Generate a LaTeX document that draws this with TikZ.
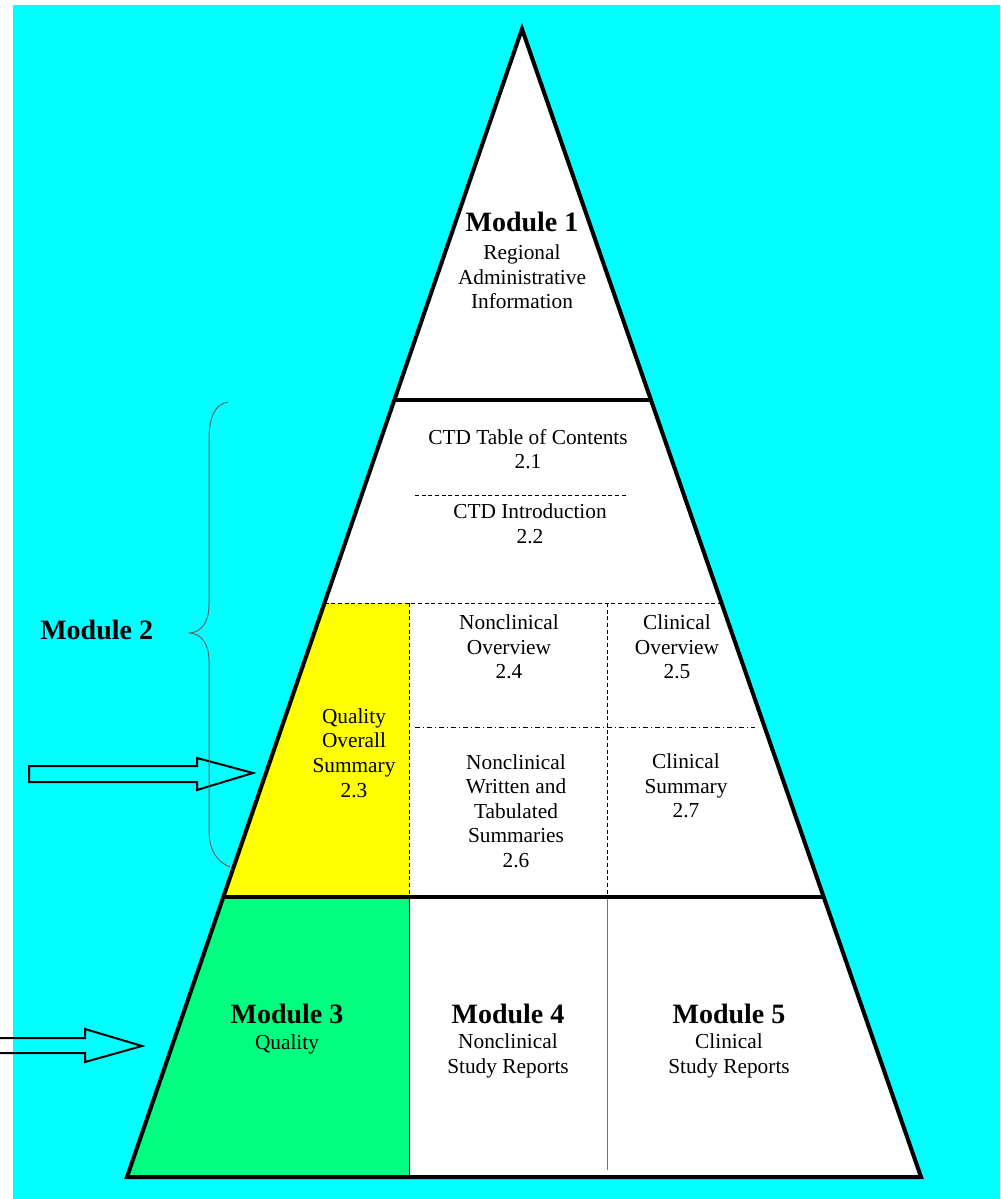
\documentclass[tikz,border=0pt]{standalone}
\usepackage{fontspec}
\setmainfont{Liberation Serif}
\usetikzlibrary{calc}
\definecolor{bgcyan}{RGB}{0,255,255}
\definecolor{qyellow}{RGB}{255,255,0}
\definecolor{mgreen}{RGB}{0,255,128}
\begin{document}
\begin{tikzpicture}[x=0.75pt,y=-0.75pt,
  thickline/.style={line width=3pt},
  thinline/.style={line width=0.75pt},
  dashline/.style={line width=0.75pt, dash pattern=on 3pt off 2pt},
  dashdotline/.style={line width=0.75pt, dash pattern=on 4pt off 2pt on 1pt off 2pt},
  txt/.style={font=\fontsize{16}{18.4}\selectfont, align=center, inner sep=0pt},
  ttl/.style={font=\fontsize{21}{24}\selectfont\bfseries, inner sep=0pt},
  blockarrow/.style={draw=black, line width=1.5pt, line join=miter},
  bracestyle/.style={draw=black!60, line width=0.75pt},
]
\useasboundingbox (0,0) rectangle (1000,1199);
\clip (0,0) rectangle (1000,1199);
\fill[bgcyan] (13,5) rectangle (1000,1199);
% triangle corners
\coordinate (A) at (522,29);
\coordinate (BL) at (127,1177);
\coordinate (BR) at (921,1177);
% points on the edges
\coordinate (L400) at ($(A)!0.3232!(BL)$);
\coordinate (R400) at ($(A)!0.3232!(BR)$);
\coordinate (L603) at ($(A)!0.5!(BL)$);
\coordinate (R603) at ($(A)!0.5!(BR)$);
\coordinate (L897) at ($(A)!0.7561!(BL)$);
\coordinate (R897) at ($(A)!0.7561!(BR)$);
% fills
\fill[white] (A) -- (BL) -- (BR) -- cycle;
\fill[qyellow] (L603) -- (409,603) -- (409,897) -- (L897) -- cycle;
\fill[mgreen] (L897) -- (409,897) -- (409,1177) -- (BL) -- cycle;
% internal thin lines
\draw[dashline] (415,495) -- (628,495);
\draw[dashline] (L603) -- (R603);
\draw[dashline] (409,603) -- (409,897);
\draw[dashline] (607,603) -- (607,897);
\draw[dashdotline] (415,727) -- (755,727);
\draw[thinline] (409,897) -- (409,1177);
\draw[thinline, black!55] (607,897) -- (607,1170);
% thick lines
\draw[thickline] (L400) -- (R400);
\draw[thickline] (L897) -- (R897);
\draw[thickline, line join=miter] (A) -- (BL) -- (BR) -- cycle;
% block arrows
\draw[blockarrow] (29,766) -- (197,766) -- (197,758) -- (253,773) -- (197,790) -- (197,782) -- (29,782) -- cycle;
\draw[blockarrow] (-10,1038) -- (85,1038) -- (85,1029) -- (142,1046) -- (85,1062) -- (85,1053) -- (-10,1053) -- cycle;
% brace
\draw[bracestyle] (228,402) .. controls (216,404) and (209,415) .. (209,440) -- (209,605) .. controls (209,624) and (200,632) .. (190,633) .. controls (200,634) and (209,642) .. (209,661) -- (209,830) .. controls (209,850) and (217,862) .. (230,867);
% texts
\node[ttl] (m1) at (522,222) {Module 1};
\node[txt] (m1t) at (522,277) {Regional\\Administrative\\Information};
\node[txt] (c21) at (528,449) {CTD Table of Contents\\2.1};
\node[txt] (c22) at (530,524) {CTD Introduction\\2.2};
\node[txt] (n24) at (509,647) {Nonclinical\\Overview\\2.4};
\node[txt] (c25) at (677,647) {Clinical\\Overview\\2.5};
\node[txt] (q23) at (354,753) {Quality\\Overall\\Summary\\2.3};
\node[txt] (n26) at (516,811) {Nonclinical\\Written and\\Tabulated\\Summaries\\2.6};
\node[txt] (c27) at (686,786) {Clinical\\Summary\\2.7};
\node[ttl, anchor=west] (m2) at (40,630) {Module 2};
\node[ttl] (m3) at (287,1014) {Module 3};
\node[txt] (m3t) at (287,1044) {Quality};
\node[ttl] (m4) at (508,1014) {Module 4};
\node[txt] (m4t) at (508,1056) {Nonclinical\\Study Reports};
\node[ttl] (m5) at (729,1014) {Module 5};
\node[txt] (m5t) at (729,1056) {Clinical\\Study Reports};
\end{tikzpicture}
\end{document}
